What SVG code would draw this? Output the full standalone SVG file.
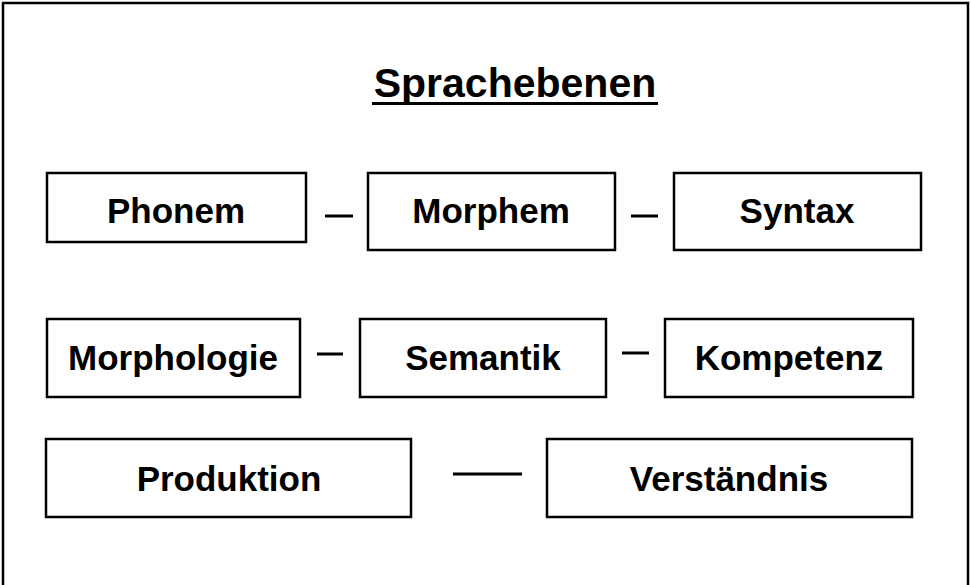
<svg xmlns="http://www.w3.org/2000/svg" width="971" height="585" viewBox="0 0 971 585">
<style>
.box{fill:#fff;stroke:#000;stroke-width:2.5}
.lbl{font-family:"Liberation Sans",Arial,sans-serif;font-weight:bold;font-size:35px;fill:#000;text-anchor:middle}
.con{stroke:#000;stroke-width:3;fill:none}
</style>
<rect x="0" y="0" width="971" height="585" fill="#fff"/>
<rect x="3" y="3" width="965" height="590" fill="none" stroke="#000" stroke-width="2.5"/>
<g id="title">
<text x="515" y="97" font-family="Liberation Sans, Arial, sans-serif" font-weight="bold" font-size="41" text-anchor="middle" fill="#000">Sprachebenen</text>
<line x1="372" y1="103.5" x2="658" y2="103.5" stroke="#000" stroke-width="3"/>
</g>
<g id="connectors">
<line class="con" x1="325" y1="216" x2="353" y2="216"/>
<line class="con" x1="631" y1="216" x2="658" y2="216"/>
<line class="con" x1="317" y1="354" x2="343" y2="354"/>
<line class="con" x1="622" y1="353" x2="649" y2="353"/>
<line class="con" x1="453" y1="474" x2="522" y2="474"/>
</g>
<g id="phonem"><rect class="box" x="47" y="173" width="259" height="69"/><text class="lbl" x="176" y="223">Phonem</text></g>
<g id="morphem"><rect class="box" x="368" y="173" width="247" height="77"/><text class="lbl" x="491" y="223">Morphem</text></g>
<g id="syntax"><rect class="box" x="674" y="173" width="247" height="77"/><text class="lbl" x="797" y="223">Syntax</text></g>
<g id="morphologie"><rect class="box" x="47" y="319" width="253" height="78"/><text class="lbl" x="173" y="370">Morphologie</text></g>
<g id="semantik"><rect class="box" x="360" y="319" width="246" height="78"/><text class="lbl" x="483" y="370">Semantik</text></g>
<g id="kompetenz"><rect class="box" x="665" y="319" width="248" height="78"/><text class="lbl" x="789" y="370">Kompetenz</text></g>
<g id="produktion"><rect class="box" x="46" y="439" width="365" height="78"/><text class="lbl" x="229" y="491">Produktion</text></g>
<g id="verstaendnis"><rect class="box" x="547" y="439" width="365" height="78"/><text class="lbl" x="729" y="491">Verständnis</text></g>
</svg>
